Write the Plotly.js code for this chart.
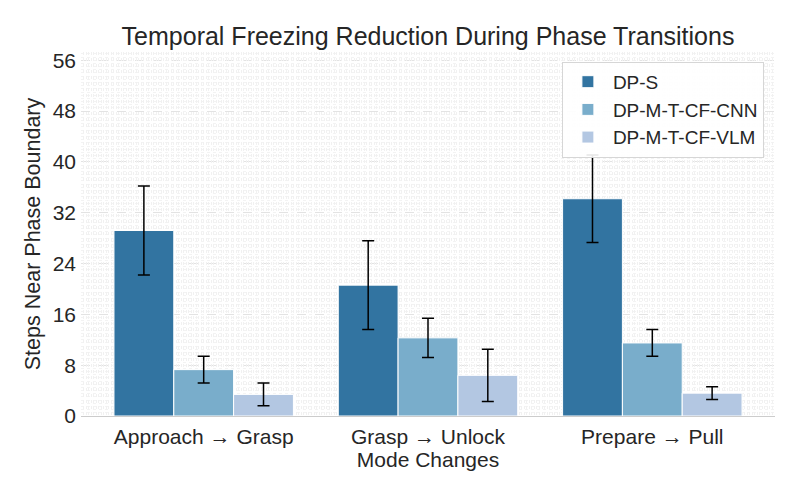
<!DOCTYPE html>
<html>
<head>
<meta charset="utf-8">
<script src="https://cdn.plot.ly/plotly-3.0.1.min.js"></script>
<style>html,body{margin:0;padding:0;background:#fff;}#chart{width:800px;height:500px;}</style>
</head>
<body>
<div id="chart"></div>
<script>
const categories = ["Approach \u2192 Grasp", "Grasp \u2192 Unlock", "Prepare \u2192 Pull"];
const seriesNames = ["DP-S", "DP-M-T-CF-CNN", "DP-M-T-CF-VLM"];
const dpS = [29.2, 20.6, 34.2];
const dpSErr = [7.0, 7.0, 6.9];
const cnn = [7.3, 12.3, 11.5];
const cnnErr = [2.1, 3.1, 2.1];
const vlm = [3.4, 6.4, 3.6];
const vlmErr = [1.8, 4.1, 1.0];
const yTicks = [0, 8, 16, 24, 32, 40, 48, 56];
const colors = ["#3274a1", "#79adcb", "#b3c7e2"];

const vals = [dpS, cnn, vlm];
const errs = [dpSErr, cnnErr, vlmErr];

const traces = vals.map((v, i) => ({
  type: "bar",
  name: seriesNames[i],
  x: categories,
  y: v,
  marker: {color: colors[i], line: {color: "#ffffff", width: 1}},
  error_y: {type: "data", array: errs[i], visible: true, color: "#000000", thickness: 1.5, width: 6}
}));

// invisible trace on an overlay axis to carry a fine vertical minor grid
traces.push({
  type: "scatter", x: [0, 1], y: [0, 0], xaxis: "x2", yaxis: "y",
  mode: "markers", marker: {opacity: 0}, showlegend: false, hoverinfo: "skip"
});

const layout = {
  width: 800, height: 500,
  margin: {l: 81, r: 25, t: 52, b: 84},
  paper_bgcolor: "#ffffff",
  plot_bgcolor: "#ffffff",
  font: {family: "Liberation Sans, Arial, sans-serif", color: "#262626"},
  title: {text: "Temporal Freezing Reduction During Phase Transitions", x: 0.535, xanchor: "center", y: 0.928, yanchor: "middle", font: {size: 25, color: "#262626"}},
  barmode: "group",
  bargap: 0.2,
  bargroupgap: 0,
  xaxis: {
    type: "category",
    range: [-0.547, 2.547],
    showgrid: false,
    showline: true, linecolor: "#cccccc", linewidth: 1.2,
    ticks: "", tickfont: {size: 21, color: "#262626"},
    ticklabelstandoff: 2,
    title: {text: "Mode Changes", font: {size: 21, color: "#262626"}, standoff: 2},
    zeroline: false
  },
  xaxis2: {
    overlaying: "x", range: [0, 1], showticklabels: false, ticks: "",
    showgrid: true, gridcolor: "#f1f1f1", gridwidth: 1, griddash: "dot",
    dtick: 1/277, zeroline: false, showline: false, layer: "below traces"
  },
  yaxis: {
    range: [0, 57.3],
    tickvals: yTicks, ticktext: yTicks.map(String),
    tickfont: {size: 21, color: "#262626"},
    ticks: "", ticklen: 0,
    ticklabelstandoff: 4,
    showgrid: true, gridcolor: "#e3e3e3", gridwidth: 1, griddash: "dash",
    minor: {dtick: 0.5, showgrid: true, gridcolor: "#f3f3f3", gridwidth: 1, griddash: "dot"},
    showline: false, zeroline: false,
    title: {text: "Steps Near Phase Boundary", font: {size: 21.5, color: "#262626"}, standoff: 6}
  },
  legend: {
    x: 0.984, xanchor: "right", y: 0.973, yanchor: "top",
    bgcolor: "rgba(255,255,255,0.9)", bordercolor: "#d6d6d6", borderwidth: 1,
    font: {size: 19, color: "#262626"},
    itemwidth: 40
  },
  showlegend: true
};

Plotly.newPlot("chart", traces, layout, {displayModeBar: false, staticPlot: true});
</script>
</body>
</html>
